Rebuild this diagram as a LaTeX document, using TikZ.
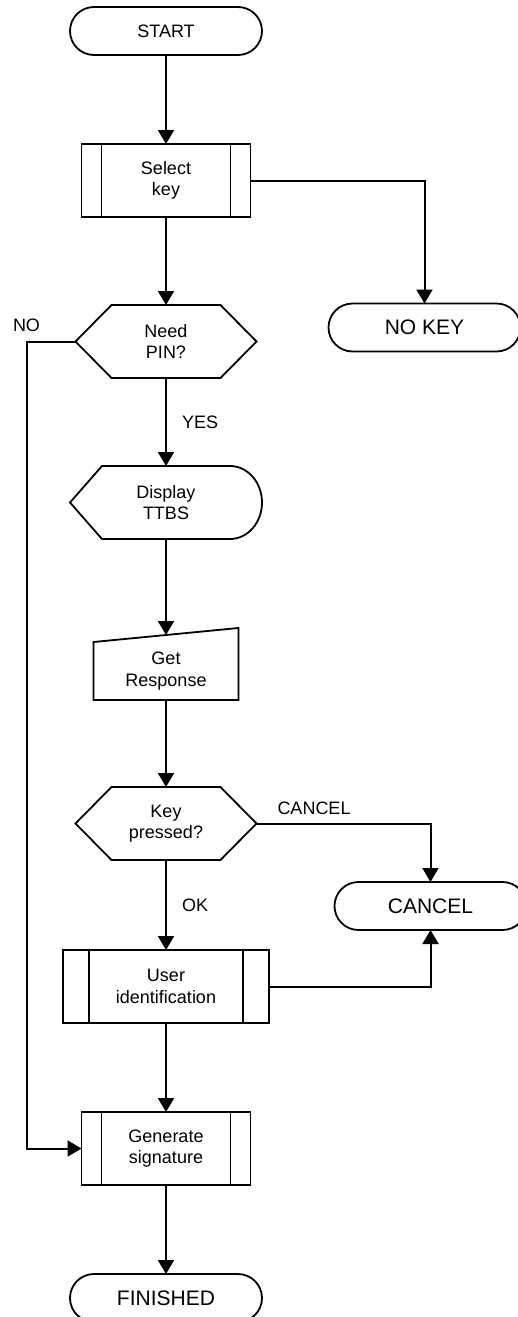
\documentclass[tikz,border=0pt]{standalone}
\usepackage{fontspec}
\setmainfont{Liberation Sans}
\usetikzlibrary{arrows.meta,positioning}
\newcommand{\boxfont}{\fontsize{18}{21.5}\selectfont}
\newcommand{\termfont}{\fontsize{21}{25}\selectfont}
\tikzset{
  flow/.style={-{Triangle[length=14pt,width=16pt]},line width=2pt},
  lbl/.style={font=\boxfont,inner sep=0pt},
  base/.style={align=center,font=\boxfont,line width=1.8pt,outer sep=0pt},
  terminal/.style={base,draw,rounded corners=24pt,minimum width=192pt,
                   minimum height=48pt,font=\termfont},
  predef/.style={base,draw,minimum width=169pt,minimum height=73pt,
    path picture={\draw[line width=1.8pt]
      ([xshift=#1]path picture bounding box.north west) -- ([xshift=#1]path picture bounding box.south west)
      ([xshift=-#1]path picture bounding box.north east) -- ([xshift=-#1]path picture bounding box.south east);}},
  predef/.default=20pt,
  decision/.style={base,minimum width=181pt,minimum height=73pt,
    append after command={\pgfextra{\draw[line width=1.8pt]
      (\tikzlastnode.west) -- ([xshift=36pt]\tikzlastnode.north west)
      -- ([xshift=-36pt]\tikzlastnode.north east) -- (\tikzlastnode.east)
      -- ([xshift=-36pt]\tikzlastnode.south east) -- ([xshift=36pt]\tikzlastnode.south west) -- cycle;}}},
  display/.style={base,minimum width=192pt,minimum height=73pt,
    append after command={\pgfextra{\draw[line width=1.8pt]
      (\tikzlastnode.west) -- ([xshift=32pt]\tikzlastnode.north west)
      -- ([xshift=-32pt]\tikzlastnode.north east)
      arc[start angle=90,end angle=-90,x radius=32pt,y radius=36.5pt]
      -- ([xshift=32pt]\tikzlastnode.south west) -- cycle;}}},
  manual/.style={base,minimum width=145pt,minimum height=58pt,
    append after command={\pgfextra{\draw[line width=1.8pt]
      (\tikzlastnode.north west) -- ([yshift=14pt]\tikzlastnode.north east)
      -- (\tikzlastnode.south east) -- (\tikzlastnode.south west) -- cycle;}}}
}
\begin{document}
\begin{tikzpicture}[node distance=88pt]
  \useasboundingbox (0,0) rectangle (518pt,-1317pt);
  % main column
  \node[terminal,font=\boxfont] (start) at (166pt,-31pt) {START};
  \node[predef,below=89pt of start] (select) {Select\\key};
  \node[decision,below=of select] (pin) {Need\\PIN?};
  \node[display,below=of pin] (disp) {Display\\TTBS};
  \node[manual,below=103pt of disp] (gresp) {Get\\Response};
  \node[decision,below=87pt of gresp] (keyp) {Key\\pressed?};
  \node[predef=26pt,minimum width=206pt,below=90pt of keyp] (userid) {User\\identification};
  \node[predef,below=89pt of userid] (gensig) {Generate\\signature};
  \node[terminal,below=89pt of gensig] (fin) {FINISHED};
  % side exits
  \node[terminal,right=72pt of pin,yshift=14pt] (nokey) {NO KEY};
  \node[terminal,below right=22pt and 78pt of keyp] (cancel) {CANCEL};

  \draw[flow] (start) -- (select);
  \draw[flow] (select.east) -| (nokey.north);
  \draw[flow] (select) -- (pin);
  \draw[flow] (pin.west) -- ++(-49pt,0) node[lbl,above=9pt] {NO} |- (gensig.west);
  \draw[flow] (pin) -- node[lbl,right=15pt] {YES} (disp);
  \draw[flow] (disp) -- ([yshift=7pt]gresp.north);
  \draw[flow] (gresp) -- (keyp);
  \draw[flow] (keyp.east) -- ++(20pt,0) node[lbl,above right=8pt and 0pt] {CANCEL} -| (cancel.north);
  \draw[flow] (keyp) -- node[lbl,right=15pt] {OK} (userid);
  \draw[flow] (userid.east) -| (cancel.south);
  \draw[flow] (userid) -- (gensig);
  \draw[flow] (gensig) -- (fin);
\end{tikzpicture}
\end{document}
